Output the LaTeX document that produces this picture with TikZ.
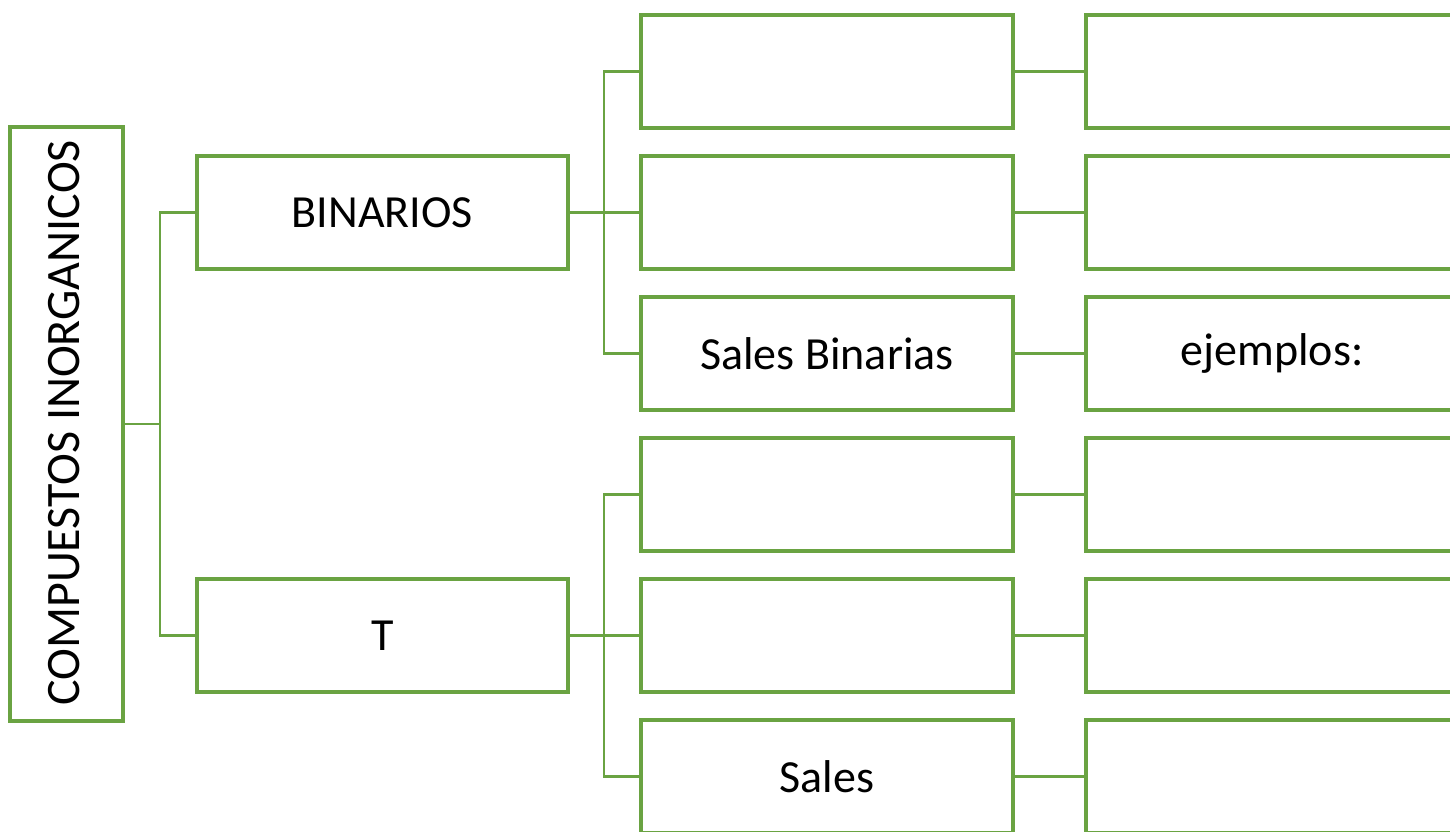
\documentclass[tikz,border=0pt]{standalone}
\usepackage{fontspec}
\setmainfont{Carlito}
\definecolor{ogreen}{HTML}{6AA342}
\begin{document}
\begin{tikzpicture}[x=1pt,y=-1pt,
  box/.style={draw=ogreen,line width=3.2pt,fill=white,inner sep=0pt,
    minimum width=372pt,minimum height=113pt,
    font=\fontsize{46}{55}\selectfont,text=black},
  conn/.style={draw=ogreen,line width=2.2pt}]
\useasboundingbox (0,0) rectangle (1450,831);
\clip (0,0) rectangle (1450,831);
% root
\node[box,minimum width=113pt,minimum height=594pt] (root) at (66.5,424) {};
\node[font=\fontsize{48}{58}\selectfont,rotate=90,inner sep=0pt] (roottext) at (64,423) {COMPUESTOS INORGANICOS};
% level 2
\node[box,minimum width=371pt] (bin) at (382.5,212.5) {BINARIOS};
\node[box,minimum width=371pt] (ter) at (382.5,635.5) {T};
% level 3
\node[box] (a1) at (827,71.5) {};
\node[box] (a2) at (827,212.5) {};
\node[box] (a3) at (827,353.5) {Sales Binarias};
\node[box] (b1) at (827,494.5) {};
\node[box] (b2) at (827,635.5) {};
\node[box] (b3) at (827,776.5) {Sales};
% level 4
\node[box] (c1) at (1272,71.5) {};
\node[box] (c2) at (1272,212.5) {};
\node[box] (c3) at (1272,353.5) {ejemplos:};
\node[box] (d1) at (1272,494.5) {};
\node[box] (d2) at (1272,635.5) {};
\node[box] (d3) at (1272,776.5) {};
% connectors
\coordinate (j0) at (160,424);
\draw[conn] (root.east) -- (j0) |- (bin.west);
\draw[conn] (j0) |- (ter.west);
\coordinate (j1) at (604,212.5);
\draw[conn] (bin.east) -- (j1) |- (a1.west);
\draw[conn] (j1) |- (a2.west);
\draw[conn] (j1) |- (a3.west);
\coordinate (j2) at (604,635.5);
\draw[conn] (ter.east) -- (j2) |- (b1.west);
\draw[conn] (j2) |- (b2.west);
\draw[conn] (j2) |- (b3.west);
\draw[conn] (a1.east) -- (c1.west);
\draw[conn] (a2.east) -- (c2.west);
\draw[conn] (a3.east) -- (c3.west);
\draw[conn] (b1.east) -- (d1.west);
\draw[conn] (b2.east) -- (d2.west);
\draw[conn] (b3.east) -- (d3.west);
\end{tikzpicture}
\end{document}
